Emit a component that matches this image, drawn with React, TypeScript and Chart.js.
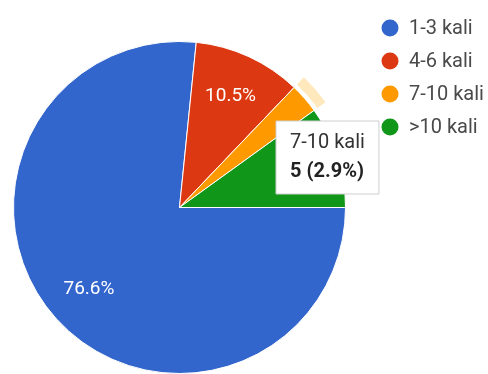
import React, { useEffect, useRef } from "react";
import { Chart, registerables, Tooltip } from "chart.js";

Chart.register(...registerables);

const categories = ["1-3 kali", "4-6 kali", "7-10 kali", ">10 kali"];
const responses = [131, 18, 5, 17];
const sliceColors = ["#3366cc", "#dc3912", "#ff9900", "#109618"];
const highlightedIndex = 2;

const FONT = "Roboto, 'Noto Sans', Arial, sans-serif";

(Tooltip.positioners as any).fixedBox = function () {
  return { x: 276, y: 121 };
};

const total = responses.reduce((a, b) => a + b, 0);
const pct = (v: number) => ((v / total) * 100).toFixed(1) + "%";

const sliceLabels = {
  id: "sliceLabels",
  afterDatasetsDraw(chart: any) {
    const ctx = chart.ctx;
    const meta = chart.getDatasetMeta(0);
    ctx.save();
    const hl = meta.data[highlightedIndex];
    if (hl) {
      const p = hl.getProps(["x", "y", "startAngle", "endAngle", "outerRadius"], true);
      ctx.beginPath();
      ctx.arc(p.x, p.y, p.outerRadius + 14, p.startAngle, p.endAngle);
      ctx.arc(p.x, p.y, p.outerRadius + 4, p.endAngle, p.startAngle, true);
      ctx.closePath();
      ctx.fillStyle = "rgba(255,190,60,0.35)";
      ctx.fill();
    }
    ctx.fillStyle = "#ffffff";
    ctx.font = `19px ${FONT}`;
    ctx.textAlign = "center";
    ctx.textBaseline = "middle";
    meta.data.forEach((arc: any, i: number) => {
      const v = responses[i];
      if (v / total < 0.05) return;
      const p = arc.getProps(["x", "y", "startAngle", "endAngle", "outerRadius"], true);
      const mid = (p.startAngle + p.endAngle) / 2;
      const r = p.outerRadius * 0.735;
      ctx.fillText(pct(v), p.x + Math.cos(mid) * r, p.y + Math.sin(mid) * r);
    });
    ctx.restore();
  },
};

const sideLegend = {
  id: "sideLegend",
  afterDraw(chart: any) {
    const ctx = chart.ctx;
    ctx.save();
    ctx.font = `20px ${FONT}`;
    ctx.textBaseline = "middle";
    ctx.textAlign = "left";
    categories.forEach((c, i) => {
      const cy = 28 + i * 33;
      ctx.beginPath();
      ctx.arc(390, cy, 8.5, 0, Math.PI * 2);
      ctx.fillStyle = sliceColors[i];
      ctx.fill();
      ctx.fillStyle = "#4a4a4a";
      ctx.fillText(c, 409, cy + 1);
    });
    ctx.restore();
  },
};

export default function App() {
  const ref = useRef<HTMLCanvasElement | null>(null);
  useEffect(() => {
    if (!ref.current) return;
    const chart = new Chart(ref.current, {
      type: "pie",
      data: {
        labels: categories,
        datasets: [
          {
            data: responses,
            backgroundColor: sliceColors,
            hoverBackgroundColor: sliceColors,
            borderColor: "#ffffff",
            hoverBorderColor: "#ffffff",
            borderWidth: 1,
            hoverBorderWidth: 1,
            hoverOffset: 0,
          },
        ],
      },
      options: {
        animation: false,
        responsive: true,
        maintainAspectRatio: false,
        rotation: 90,
        layout: { padding: { left: 13, right: 142, top: 41, bottom: 0 } },
        events: [],
        plugins: {
          legend: { display: false },
          tooltip: {
            enabled: true,
            position: "fixedBox" as any,
            xAlign: "left",
            yAlign: "top",
            caretSize: 0,
            caretPadding: 0,
            cornerRadius: 0,
            backgroundColor: "#ffffff",
            borderColor: "#cfcfcf",
            borderWidth: 1,
            displayColors: false,
            padding: { x: 14, y: 10 },
            titleColor: "#333333",
            bodyColor: "#222222",
            titleFont: { family: FONT, size: 20, weight: "normal" },
            bodyFont: { family: FONT, size: 20, weight: "bold" },
            titleMarginBottom: 5,
            callbacks: {
              title: (items: any[]) => categories[items[0].dataIndex],
              label: (item: any) => `${responses[item.dataIndex]} (${pct(responses[item.dataIndex])})`,
            },
          },
        },
      },
      plugins: [sliceLabels, sideLegend],
    });
    chart.tooltip!.setActiveElements([{ datasetIndex: 0, index: highlightedIndex }], { x: 0, y: 0 });
    chart.update();
    return () => chart.destroy();
  }, []);
  return (
    <div style={{ position: "fixed", left: 0, top: 0, width: 488, height: 374, background: "#fff" }}>
      <canvas ref={ref} />
    </div>
  );
}
